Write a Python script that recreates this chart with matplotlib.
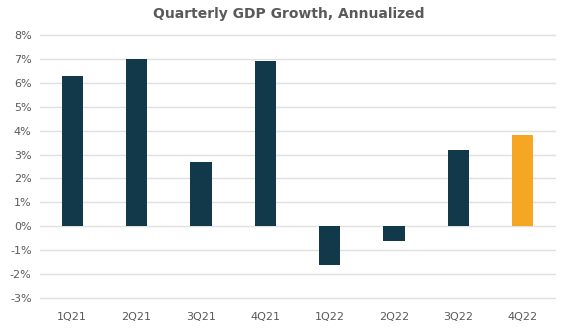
import matplotlib

matplotlib.use("Agg")

import matplotlib.pyplot as plt
import numpy as np

quarters = ["1Q21", "2Q21", "3Q21", "4Q21", "1Q22", "2Q22", "3Q22", "4Q22"]
growth = [6.3, 7.0, 2.7, 6.9, -1.6, -0.6, 3.2, 3.8]
bar_colors = ["#11394a"] * 7 + ["#f5a623"]

fig = plt.figure(figsize=(5.78, 3.33), dpi=100)
ax = fig.add_axes([40 / 578, 1 - 298 / 333, 515 / 578, 263 / 333])

x = np.arange(len(quarters))
ax.bar(x, growth, width=0.33, color=bar_colors, zorder=3)

ax.set_xlim(-0.5, len(quarters) - 0.5)
ax.set_ylim(-3, 8)
ax.set_yticks(range(-3, 9))
ax.set_yticklabels([f"{v}%" for v in range(-3, 9)])
ax.set_xticks(x)
ax.set_xticklabels(quarters)
ax.grid(axis="y", color="#e0e0e0", linewidth=1, zorder=0)
for gl in ax.get_ygridlines():
    gl.set_clip_on(False)
for side in ax.spines.values():
    side.set_visible(False)
ax.tick_params(length=0, labelsize=8, colors="#595959")
ax.tick_params(axis="x", pad=10)
ax.tick_params(axis="y", pad=6)

fig.text(0.5, 1 - 14 / 333, "Quarterly GDP Growth, Annualized", ha="center",
         va="center", fontsize=10, fontweight="bold", color="#595959")

fig.savefig("out.png", dpi=100)
plt.close(fig)
